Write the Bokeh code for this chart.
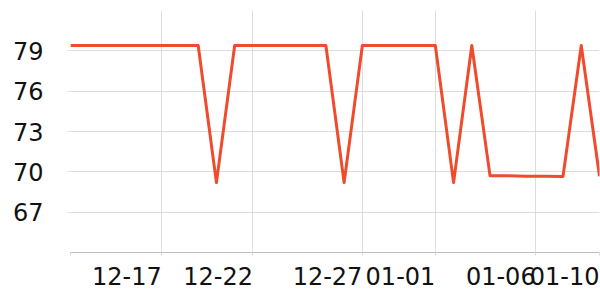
from bokeh.plotting import figure
from bokeh.models import Range1d, FixedTicker, LinearAxis
from bokeh.embed import file_html
from bokeh.resources import INLINE

# data: one value per observation (index positions along x)
values = [79.4, 79.4, 79.4, 79.4, 79.4, 79.4, 79.4, 79.4, 69.2, 79.4,
          79.4, 79.4, 79.4, 79.4, 79.4, 69.2, 79.4, 79.4, 79.4, 79.4,
          79.4, 69.2, 79.4, 69.7, 69.7, 69.68, 69.68, 69.66, 79.4, 69.66]
x_idx = list(range(len(values)))

x_tick_pos = [0, 5, 10, 16, 20, 25.5, 29]
x_tick_labels = ["", "12-17", "12-22", "12-27", "01-01", "01-06", "01-10"]
y_ticks = [67, 70, 73, 76, 79]

W, H = 600, 300
BL, BR = 70, 1
p = figure(width=W, height=H, output_backend="svg", toolbar_location=None,
           x_range=Range1d(0, 29), y_range=Range1d(64, 82),
           min_border_left=BL, min_border_right=BR, min_border_top=10, min_border_bottom=48)
p.outline_line_color = None

p.line(x_idx, values, line_color="#ef4b2c", line_width=3, line_join="round")

grid_col = "#dcdcdc"
p.xaxis.ticker = FixedTicker(ticks=x_tick_pos)
p.yaxis.ticker = FixedTicker(ticks=y_ticks)
p.xgrid.ticker = FixedTicker(ticks=x_tick_pos)
p.ygrid.ticker = FixedTicker(ticks=y_ticks)
p.grid.grid_line_color = grid_col
p.grid.grid_line_width = 1

for ax in (p.xaxis, p.yaxis):
    ax.major_label_text_font = "DejaVu Sans"
    ax.major_label_text_font_size = "24px"
    ax.major_label_text_color = "#111111"
    ax.major_tick_line_color = grid_col
    ax.major_tick_out = 3
    ax.major_tick_in = 0
    ax.minor_tick_line_color = None

p.xaxis.axis_line_color = "#bdbdbd"
p.xaxis.major_label_text_font_size = "1px"
p.xaxis.major_label_standoff = 0
p.xaxis.major_label_overrides = {t: "" for t in x_tick_pos}
p.yaxis.axis_line_color = None
p.yaxis.major_label_standoff = 24

# x tick labels sit to the left of their ticks (right edge at the tick):
# a second, line-less axis carries them, shifted by half a label width
px_per_unit = (W - BL - BR) / 29
shift = 34.85 / px_per_unit
lab_pos = [t - shift for t, l in zip(x_tick_pos, x_tick_labels) if l]
lab_txt = [l for l in x_tick_labels if l]
lab_axis = LinearAxis(ticker=FixedTicker(ticks=lab_pos),
                      major_label_overrides={t: l for t, l in zip(lab_pos, lab_txt)})
lab_axis.axis_line_color = None
lab_axis.major_tick_line_color = None
lab_axis.minor_tick_line_color = None
lab_axis.major_label_text_font = "DejaVu Sans"
lab_axis.major_label_text_font_size = "24px"
lab_axis.major_label_text_color = "#111111"
lab_axis.major_label_standoff = 5
p.add_layout(lab_axis, "below")

open("out.html", "w").write(file_html(p, INLINE))
